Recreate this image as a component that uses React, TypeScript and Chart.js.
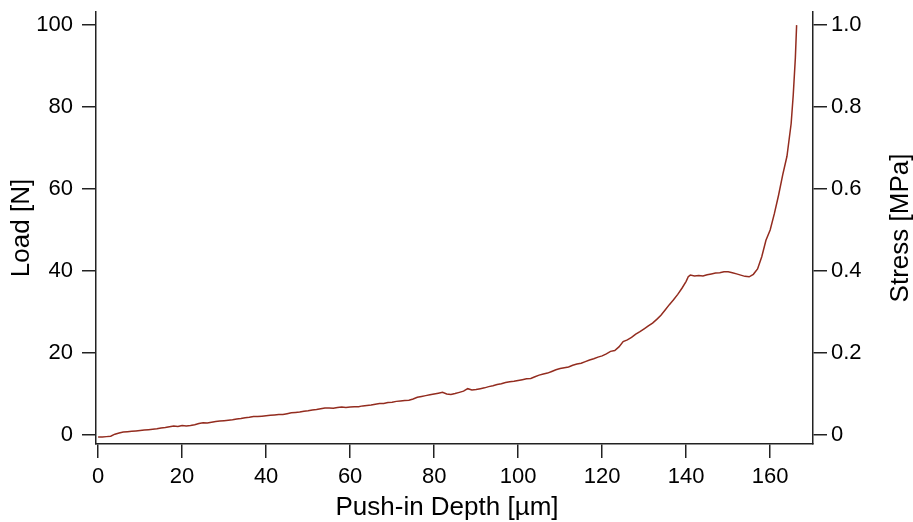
import React, { useEffect, useRef } from "react";
import { Chart, registerables } from "chart.js";

Chart.register(...registerables);

const depth: number[] = [
  0, 1, 2, 3, 4, 5, 6, 7, 8, 9, 10, 11, 12, 13, 14, 15, 16, 17, 18, 19,
  20, 21, 22, 23, 24, 25, 26, 27, 28, 29, 30, 31, 32, 33, 34, 35, 36, 37, 38, 39,
  40, 41, 42, 43, 44, 45, 46, 47, 48, 49, 50, 51, 52, 53, 54, 55, 56, 57, 58, 59,
  60, 61, 62, 63, 64, 65, 66, 67, 68, 69, 70, 71, 72, 73, 74, 75, 76, 77, 78, 79,
  80, 81, 82, 83, 84, 85, 86, 87, 88, 89, 90, 91, 92, 93, 94, 95, 96, 97, 98, 99,
  100, 101, 102, 103, 104, 105, 106, 107, 108, 109, 110, 111, 112, 113, 114, 115, 116, 117, 118, 119,
  120, 121, 122, 123, 124, 125, 126, 127, 128, 129, 130, 131, 132, 133, 134, 135, 136, 137, 138, 139,
  140, 140.5, 141, 142, 143, 144, 145, 146, 147, 148, 149, 150, 151, 152, 153, 154, 155, 156, 157, 158, 159,
  160, 161, 162, 163, 164, 165, 165.5, 166, 166.3,
];

const load: number[] = [
  -0.5, -0.5, -0.4, -0.3, 0.2, 0.5, 0.7, 0.8, 0.9, 1.0, 1.1, 1.2, 1.3, 1.4, 1.5, 1.7, 1.8, 2.0, 2.2, 2.1,
  2.3, 2.2, 2.3, 2.5, 2.8, 3.0, 2.9, 3.1, 3.3, 3.4, 3.5, 3.6, 3.7, 3.9, 4.0, 4.2, 4.3, 4.5, 4.5, 4.6,
  4.7, 4.8, 4.9, 5.0, 5.0, 5.2, 5.4, 5.5, 5.6, 5.8, 5.9, 6.1, 6.2, 6.4, 6.6, 6.6, 6.5, 6.7, 6.8, 6.7,
  6.8, 6.9, 6.9, 7.1, 7.2, 7.3, 7.5, 7.7, 7.7, 7.9, 8.0, 8.2, 8.3, 8.4, 8.5, 8.8, 9.2, 9.4, 9.6, 9.8,
  10.0, 10.2, 10.4, 10.0, 9.9, 10.1, 10.4, 10.7, 11.3, 11.0, 11.1, 11.3, 11.5, 11.8, 12.0, 12.3, 12.5, 12.8, 13.0, 13.1,
  13.3, 13.5, 13.7, 13.8, 14.2, 14.6, 14.9, 15.1, 15.5, 15.9, 16.2, 16.4, 16.6, 17.0, 17.3, 17.5, 17.9, 18.3, 18.6, 19.0,
  19.3, 19.8, 20.4, 20.6, 21.5, 22.8, 23.2, 23.8, 24.6, 25.2, 25.9, 26.6, 27.3, 28.2, 29.2, 30.5, 31.8, 33.0, 34.3, 35.8,
  37.5, 38.6, 39.0, 38.8, 38.9, 38.8, 39.1, 39.3, 39.5, 39.6, 39.8, 39.8, 39.6, 39.3, 39.0, 38.7, 38.6, 39.2, 40.5, 43.5, 47.5,
  50.0, 54.0, 58.5, 63.5, 68.0, 76.0, 83.0, 92.0, 100.0,
];

const xTicks: number[] = [0, 20, 40, 60, 80, 100, 120, 140, 160];
const loadTicks: number[] = [0, 20, 40, 60, 80, 100];
const stressTicks: number[] = [0, 0.2, 0.4, 0.6, 0.8, 1.0];

const xTitle = "Push-in Depth [µm]";
const leftTitle = "Load [N]";
const rightTitle = "Stress [MPa]";

const FONT = "'Liberation Sans', Arial, sans-serif";
const AXIS = "#222222";

export default function App() {
  const ref = useRef<HTMLCanvasElement | null>(null);

  useEffect(() => {
    if (!ref.current) return;
    const titles = {
      id: "titles",
      afterDraw(chart: any) {
        const ctx = chart.ctx;
        ctx.save();
        ctx.fillStyle = "#000";
        ctx.font = `26px ${FONT}`;
        ctx.textAlign = "center";
        ctx.textBaseline = "middle";
        ctx.fillText(xTitle, 447, 508);
        ctx.save();
        ctx.translate(22, 228);
        ctx.rotate(-Math.PI / 2);
        ctx.fillText(leftTitle, 0, 0);
        ctx.restore();
        ctx.save();
        ctx.translate(901, 228);
        ctx.rotate(-Math.PI / 2);
        ctx.fillText(rightTitle, 0, 0);
        ctx.restore();
        ctx.restore();
      },
    };

    const tickFont = { family: FONT, size: 22 };
    const zeroPad = (s: any) => {
      s.paddingTop = 0;
      s.paddingBottom = 0;
      s.paddingLeft = 0;
      s.paddingRight = 0;
    };
    const chart = new Chart(ref.current, {
      type: "scatter",
      data: {
        datasets: [
          {
            data: depth.map((d, i) => ({ x: d, y: load[i] })),
            showLine: true,
            borderColor: "#932c1f",
            borderWidth: 1.5,
            pointRadius: 0,
            tension: 0,
            yAxisID: "y",
          },
        ],
      },
      options: {
        responsive: false,
        animation: false,
        events: [],
        layout: { padding: { top: 12, left: 0, right: 0, bottom: 0 } },
        plugins: { legend: { display: false }, tooltip: { enabled: false } },
        scales: {
          x: {
            type: "linear",
            min: -0.5,
            max: 170.2,
            afterFit: (s: any) => {
              s.height = 78;
              zeroPad(s);
            },
            afterBuildTicks: (s: any) => {
              s.ticks = xTicks.map((v) => ({ value: v }));
            },
            border: { display: true, color: AXIS, width: 1.5 },
            grid: { drawOnChartArea: false, drawTicks: true, tickLength: 14, color: AXIS, lineWidth: 1.5 },
            ticks: { font: tickFont, color: "#000", padding: 6, maxRotation: 0, autoSkip: false },
          },
          y: {
            type: "linear",
            position: "left",
            min: -2.2,
            max: 103.2,
            afterFit: (s: any) => {
              s.width = 96;
              zeroPad(s);
            },
            afterBuildTicks: (s: any) => {
              s.ticks = loadTicks.map((v) => ({ value: v }));
            },
            border: { display: true, color: AXIS, width: 1.5 },
            grid: { drawOnChartArea: false, drawTicks: true, tickLength: 14, color: AXIS, lineWidth: 1.5 },
            ticks: { font: tickFont, color: "#000", padding: 9, autoSkip: false },
          },
          y2: {
            type: "linear",
            position: "right",
            min: -0.022,
            max: 1.032,
            afterFit: (s: any) => {
              s.width = 100;
              zeroPad(s);
            },
            afterBuildTicks: (s: any) => {
              s.ticks = stressTicks.map((v) => ({ value: v }));
            },
            border: { display: true, color: AXIS, width: 1.5 },
            grid: { drawOnChartArea: false, drawTicks: true, tickLength: 14, color: AXIS, lineWidth: 1.5 },
            ticks: {
              font: tickFont,
              color: "#000",
              padding: 4,
              autoSkip: false,
              callback: (v: any) => (Number(v) === 0 ? "0" : Number(v).toFixed(1)),
            },
          },
        },
      },
      plugins: [titles],
    } as any);
    return () => chart.destroy();
  }, []);

  return (
    <div style={{ position: "fixed", left: 0, top: 0, width: 913, height: 522, background: "#fff" }}>
      <canvas ref={ref} width={913} height={522} style={{ display: "block" }} />
    </div>
  );
}
